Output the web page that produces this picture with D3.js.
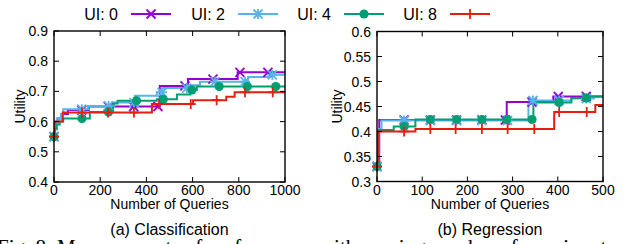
<!DOCTYPE html>
<html lang="en">
<head>
<meta charset="UTF-8">
<title>Utility vs Number of Queries</title>
<script src="https://d3js.org/d3.v7.min.js"></script>
<style>
    body { margin: 0; background: #fff; }
    text { font-family: "Liberation Sans", Arial, sans-serif; fill: #000; }
    .caption-serif { font-family: "Liberation Serif", "Times New Roman", serif; }
</style>
</head>
<body>
<div id="chart"></div>
<script>
// ---- data ----
const seriesNames = ["UI: 0", "UI: 2", "UI: 4", "UI: 8"];
const colors = ["#9400d3", "#56b4e9", "#009e73", "#e51e10"];
const shapes = ["x", "star", "circle", "plus"];

// (a) Classification: step points [queries, utility]
const clsUI0 = [[0,0.55],[3,0.598],[15,0.61],[35,0.625],[60,0.638],[150,0.65],[458,0.718],[580,0.741],[795,0.763],[1000,0.763]];
const clsUI2 = [[0,0.55],[3,0.59],[12,0.61],[30,0.625],[40,0.641],[147,0.652],[260,0.663],[350,0.686],[445,0.697],[470,0.711],[580,0.72],[632,0.732],[840,0.748],[935,0.755],[1000,0.757]];
const clsUI4 = [[0,0.55],[3,0.575],[12,0.59],[25,0.60],[40,0.61],[155,0.632],[255,0.66],[275,0.669],[445,0.674],[532,0.69],[590,0.705],[618,0.716],[1000,0.716]];
const clsUI8 = [[0,0.55],[2,0.60],[38,0.63],[424,0.658],[602,0.671],[746,0.682],[782,0.697],[1000,0.697]];
const clsMarks = [
    [0,120,235,345,450,567,688,805,926],
    [0,120,236,346,468,575,697,827,945],
    [0,121,236,357,473,597,715,837,960],
    [0,121,234,346,455,592,704,827,947]
];

// (b) Regression
const regUI0 = [[0,0.33],[5,0.423],[287,0.459],[390,0.47],[500,0.472]];
const regUI2 = [[0,0.33],[3,0.405],[10,0.422],[335,0.455],[345,0.462],[430,0.466],[480,0.47],[500,0.472]];
const regUI4 = [[0,0.33],[3,0.403],[37,0.41],[85,0.424],[346,0.458],[430,0.467],[470,0.47],[500,0.473]];
const regUI8 = [[0,0.33],[2,0.40],[85,0.405],[392,0.439],[483,0.453],[500,0.453]];
const regMarks = [
    [0,60,118,176,232,284,343,401,463],
    [0,60,118,176,232,289,345,403,463],
    [0,60,118,176,232,287,343,403,463],
    [0,60,118,174,232,289,348,403,464]
];

const clsXTicks = [0,200,400,600,800,1000];
const clsYTicks = [0.4,0.5,0.6,0.7,0.8,0.9];
const clsYLabels = ["0.4","0.5","0.6","0.7","0.8","0.9"];
const regXTicks = [0,100,200,300,400,500];
const regYTicks = [0.3,0.35,0.4,0.45,0.5,0.55,0.6];
const regYLabels = ["0.3","0.35","0.4","0.45","0.5","0.55","0.6"];

const W = 624, H = 244;
const svg = d3.select("#chart").append("svg")
    .attr("width", W).attr("height", H);

function marker(g, shape, color, cx, cy) {
    const s = 4.5;
    if (shape === "circle") {
        g.append("circle").attr("cx", cx).attr("cy", cy).attr("r", 4.6).attr("fill", color);
        return;
    }
    const segs = [];
    if (shape === "x" || shape === "star") {
        segs.push([-s,-s,s,s], [-s,s,s,-s]);
    }
    if (shape === "plus" || shape === "star") {
        segs.push([-s-0.5,0,s+0.5,0], [0,-s-0.5,0,s+0.5]);
    }
    segs.forEach(d => {
        g.append("line")
            .attr("x1", cx + d[0]).attr("y1", cy + d[1])
            .attr("x2", cx + d[2]).attr("y2", cy + d[3])
            .attr("stroke", color).attr("stroke-width", 1.8);
    });
}

function stepValue(pts, q) {
    let v = pts[0][1];
    pts.forEach(p => { if (p[0] <= q) v = p[1]; });
    return v;
}

function drawPanel(opt) {
    const x = d3.scaleLinear().domain(opt.xDomain).range([opt.left, opt.right]);
    const y = d3.scaleLinear().domain(opt.yDomain).range([opt.bottom, opt.top]);
    const g = svg.append("g");

    // series
    const clipId = "clip" + opt.id;
    g.append("clipPath").attr("id", clipId).append("rect")
        .attr("x", opt.left).attr("y", opt.top - 6)
        .attr("width", opt.right - opt.left).attr("height", opt.bottom - opt.top + 6);

    const line = d3.line().x(d => x(d[0])).y(d => y(d[1])).curve(d3.curveStepAfter);
    opt.series.forEach((pts, i) => {
        g.append("path")
            .datum(pts)
            .attr("d", line)
            .attr("fill", "none")
            .attr("stroke", colors[i])
            .attr("stroke-width", 2)
            .attr("clip-path", `url(#${clipId})`);
    });
    opt.series.forEach((pts, i) => {
        const mg = g.append("g");
        opt.marks[i].forEach(q => marker(mg, shapes[i], colors[i], x(q), y(stepValue(pts, q))));
    });

    // frame
    g.append("rect")
        .attr("x", opt.left).attr("y", opt.top)
        .attr("width", opt.right - opt.left).attr("height", opt.bottom - opt.top)
        .attr("fill", "none").attr("stroke", "#000").attr("stroke-width", 1.4);

    // ticks (gnuplot style, inward and mirrored)
    const tl = 5;
    opt.xTicks.forEach(t => {
        const px = x(t);
        g.append("line").attr("x1", px).attr("x2", px).attr("y1", opt.bottom).attr("y2", opt.bottom - tl).attr("stroke", "#000");
        g.append("line").attr("x1", px).attr("x2", px).attr("y1", opt.top).attr("y2", opt.top + tl).attr("stroke", "#000");
        g.append("text").attr("x", px).attr("y", opt.bottom + 13)
            .attr("text-anchor", "middle").attr("font-size", 14).text(t);
    });
    opt.yTicks.forEach((t, i) => {
        const py = y(t);
        g.append("line").attr("x1", opt.left).attr("x2", opt.left + tl).attr("y1", py).attr("y2", py).attr("stroke", "#000");
        g.append("line").attr("x1", opt.right).attr("x2", opt.right - tl).attr("y1", py).attr("y2", py).attr("stroke", "#000");
        g.append("text").attr("x", opt.left - 6).attr("y", py + 5)
            .attr("text-anchor", "end").attr("font-size", 14).text(opt.yLabels[i]);
    });

    // axis titles
    const cx = (opt.left + opt.right) / 2;
    g.append("text").attr("x", cx).attr("y", opt.bottom + 27)
        .attr("text-anchor", "middle").attr("font-size", 14).text("Number of Queries");
    g.append("text")
        .attr("transform", `translate(${opt.ylabelX},${(opt.top + opt.bottom) / 2}) rotate(-90)`)
        .attr("text-anchor", "middle").attr("font-size", 14).text("Utility");
    g.append("text").attr("x", cx).attr("y", 235)
        .attr("text-anchor", "middle").attr("font-size", 16).text(opt.caption);
}

drawPanel({
    id: "a", left: 54, right: 285, top: 31, bottom: 182,
    xDomain: [0, 1000], yDomain: [0.4, 0.9],
    xTicks: clsXTicks, yTicks: clsYTicks, yLabels: clsYLabels,
    series: [clsUI0, clsUI2, clsUI4, clsUI8], marks: clsMarks,
    ylabelX: 25, caption: "(a) Classification"
});

drawPanel({
    id: "b", left: 377, right: 603, top: 31.5, bottom: 181.5,
    xDomain: [0, 500], yDomain: [0.3, 0.6],
    xTicks: regXTicks, yTicks: regYTicks, yLabels: regYLabels,
    series: [regUI0, regUI2, regUI4, regUI8], marks: regMarks,
    ylabelX: 342, caption: "(b) Regression"
});

// legend across the top
const legendTextEnd = [118, 225, 331, 437];
const legend = svg.append("g");
seriesNames.forEach((name, i) => {
    const xe = legendTextEnd[i];
    legend.append("text").attr("x", xe).attr("y", 19.5)
        .attr("text-anchor", "end").attr("font-size", 16).text(name);
    legend.append("line")
        .attr("x1", xe + 13).attr("x2", xe + 53).attr("y1", 14).attr("y2", 14)
        .attr("stroke", colors[i]).attr("stroke-width", 2);
    marker(legend, shapes[i], colors[i], xe + 33, 14);
});

// figure caption cut off by the crop
svg.append("text").attr("class", "caption-serif")
    .attr("x", -3).attr("y", 254).attr("font-size", 21)
    .text("Fig. 8: Measurements of performance with varying number of user inputs.");
</script>
</body>
</html>
